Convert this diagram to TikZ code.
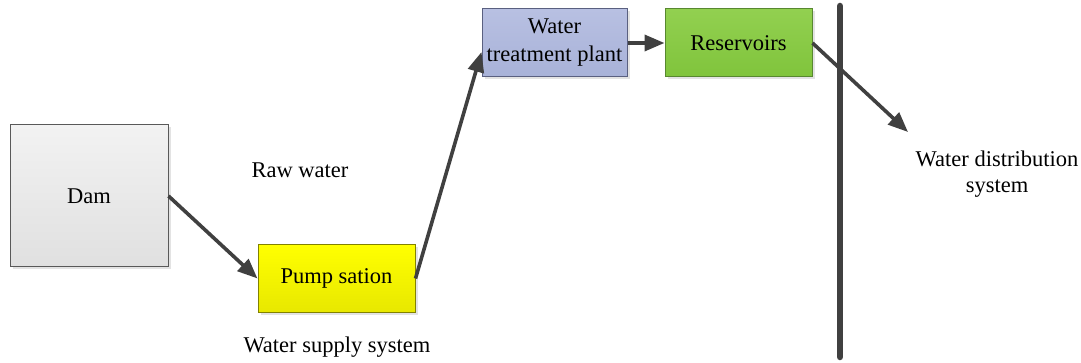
\documentclass[tikz,border=0pt]{standalone}
\usepackage{fontspec}
\setmainfont{Liberation Serif}
\usetikzlibrary{arrows.meta,shadows,calc}
\definecolor{linegray}{HTML}{404040}
\definecolor{damedge}{HTML}{595959}
\definecolor{damtop}{HTML}{F2F2F2}
\definecolor{dambot}{HTML}{E0E0E0}
\definecolor{pumpedge}{HTML}{828200}
\definecolor{pumptop}{HTML}{FFFF00}
\definecolor{pumpbot}{HTML}{E8E800}
\definecolor{wtpedge}{HTML}{5A6080}
\definecolor{wtptop}{HTML}{B8C0E2}
\definecolor{wtpbot}{HTML}{A8B2D8}
\definecolor{resedge}{HTML}{588830}
\definecolor{restop}{HTML}{92D050}
\definecolor{resbot}{HTML}{80C43C}
\tikzset{
  box/.style={rectangle, draw=#1, line width=1pt, font=\fontsize{22.5}{28}\selectfont,
    align=center, inner sep=2pt,
    drop shadow={opacity=0.22, shadow xshift=2.5pt, shadow yshift=-2.5pt}},
  flow/.style={draw=linegray, line width=3.6pt,
    -{Triangle[length=20pt,width=16pt]}},
  lbl/.style={font=\fontsize{22.5}{26}\selectfont, align=center, inner sep=0pt}
}
\begin{document}
\begin{tikzpicture}[x=1pt,y=-1pt]
  \useasboundingbox (0,0) rectangle (1081,363);

  % process boxes
  \node[box=damedge, top color=damtop, bottom color=dambot,
        minimum width=158pt, minimum height=142pt] (dam) at (89,196) {Dam};
  \node[box=pumpedge, top color=pumptop, bottom color=pumpbot,
        minimum width=157pt, minimum height=67pt] (pump) at (336.5,278.5) {Pump sation};
  \node[box=wtpedge, top color=wtptop, bottom color=wtpbot,
        minimum width=145pt, minimum height=68pt] (wtp) at (554.5,43) {Water\\treatment plant};
  \node[box=resedge, top color=restop, bottom color=resbot,
        minimum width=147pt, minimum height=68pt] (res) at (738.5,43) {Reservoirs};

  % free labels
  \node[lbl] (raw) at (300,170) {Raw water};
  \node[lbl] (supply) at (337,347) {Water supply system};
  \node[lbl] (dist) at (997,174) {Water distribution\\system};

  % connectors
  \coordinate (wtpin) at ($(wtp.west)+(0,9)$);
  \coordinate (out) at (908,132);
  \draw[flow] (dam.east) -- (pump.west);
  \draw[flow] (pump.east) -- (wtpin);
  \draw[flow] (wtp.east) -- (res.west);
  \draw[flow] (res.east) -- (out);

  % boundary bar
  \coordinate (bartop) at (840,6);
  \coordinate (barbot) at (840,357);
  \draw[linegray, line width=6.5pt, line cap=round] (bartop) -- (barbot);
\end{tikzpicture}
\end{document}
